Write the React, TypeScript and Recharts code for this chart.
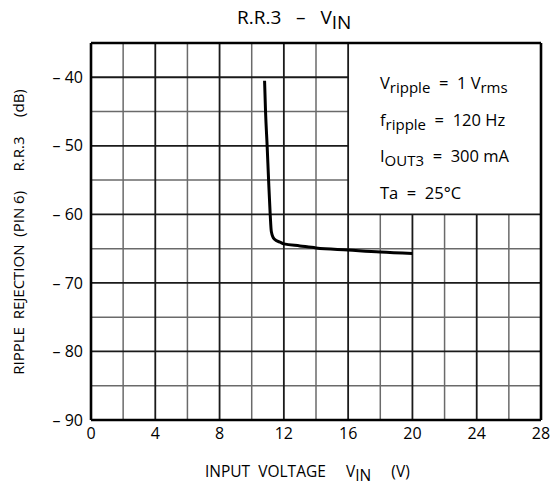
import React from "react";
import { LineChart, Line, XAxis, YAxis, ReferenceLine } from "recharts";

// curve: V_IN (V) vs ripple rejection (dB)
const vin = [10.8, 10.86, 10.96, 11.05, 11.15, 11.22, 11.4, 11.8, 12, 13, 14, 16, 18, 20];
const rr = [-40.5, -45, -50, -55, -60, -62.5, -63.6, -64.1, -64.3, -64.6, -64.9, -65.2, -65.5, -65.7];

const xTicks = [0, 4, 8, 12, 16, 20, 24, 28];
const yTicks = [-40, -50, -60, -70, -80, -90];
const xMinor = [2, 6, 10, 14, 18, 22, 26];
const xMajor = [4, 8, 12, 16, 20, 24];
const yMinor = [-45, -55, -65, -75, -85];
const yMajor = [-40, -50, -60, -70, -80];

// the condition box covers x 16..28, y -60..-35
const boxX = 16;
const boxY = -60;

const data = vin.map((v, i) => ({ vin: v, rr: rr[i] }));

const FONT = "'Open Sans', 'DejaVu Sans', sans-serif";

function vSeg(x: number) {
  const top = x > boxX ? boxY : -35;
  return [
    { x, y: -90 },
    { x, y: top },
  ];
}

function hSeg(y: number) {
  const right = y > boxY ? boxX : 28;
  return [
    { x: 0, y },
    { x: right, y },
  ];
}

const sub = { fontSize: 15, position: "relative" as const, top: 4 };

export default function App() {
  return (
    <div
      style={{
        position: "fixed",
        left: 0,
        top: 0,
        width: 560,
        height: 486,
        background: "#fff",
        fontFamily: FONT,
        color: "#000",
      }}
    >
      <LineChart
        width={560}
        height={486}
        data={data}
        margin={{ top: 43, right: 19, bottom: 36, left: 0 }}
      >
        <XAxis
          dataKey="vin"
          type="number"
          domain={[0, 28]}
          ticks={xTicks}
          axisLine={false}
          tickLine={false}
          height={30}
          tick={{ fontSize: 16, fill: "#000", fontFamily: FONT }}
        />
        <YAxis
          type="number"
          domain={[-90, -35]}
          ticks={yTicks}
          axisLine={false}
          tickLine={false}
          width={91}
          tickFormatter={(v: number) => `\u2013 ${Math.abs(v)}`}
          tick={{ fontSize: 16, fill: "#000", fontFamily: FONT }}
        />
        {xMinor.map((x) => (
          <ReferenceLine key={`xm${x}`} segment={vSeg(x)} stroke="#6a6a6a" strokeWidth={1.5} />
        ))}
        {yMinor.map((y) => (
          <ReferenceLine key={`ym${y}`} segment={hSeg(y)} stroke="#6a6a6a" strokeWidth={1.5} />
        ))}
        {xMajor.map((x) => (
          <ReferenceLine key={`xM${x}`} segment={vSeg(x)} stroke="#1a1a1a" strokeWidth={1.8} />
        ))}
        {yMajor.map((y) => (
          <ReferenceLine key={`yM${y}`} segment={hSeg(y)} stroke="#1a1a1a" strokeWidth={1.8} />
        ))}
        <ReferenceLine x={0} stroke="#000" strokeWidth={2.6} />
        <ReferenceLine x={28} stroke="#000" strokeWidth={2.6} />
        <ReferenceLine y={-35} stroke="#000" strokeWidth={2.6} />
        <ReferenceLine y={-90} stroke="#000" strokeWidth={2.6} />
        <Line
          dataKey="rr"
          type="monotone"
          stroke="#000"
          strokeWidth={3}
          dot={false}
          isAnimationActive={false}
        />
      </LineChart>

      {/* title */}
      <div
        style={{
          position: "absolute",
          left: 237,
          top: 4,
          fontSize: 19,
          whiteSpace: "pre",
        }}
      >
        {"R.R.3   \u2013   V"}
        <span style={{ position: "relative", top: 5 }}>IN</span>
      </div>

      {/* conditions */}
      <div
        style={{
          position: "absolute",
          left: 380,
          top: 65,
          fontSize: 16.5,
          lineHeight: "35.5px",
          whiteSpace: "pre",
        }}
      >
        <div>
          V<span style={sub}>ripple</span>
          {"  =  1 V"}
          <span style={sub}>rms</span>
        </div>
        <div>
          f<span style={sub}>ripple</span>
          {"  =  120 Hz"}
        </div>
        <div>
          I<span style={sub}>OUT3</span>
          {"  =  300 mA"}
        </div>
        <div>{"Ta  =  25\u00b0C"}</div>
      </div>

      {/* x axis title */}
      <div
        style={{
          position: "absolute",
          left: 205,
          top: 460,
          fontSize: 15.5,
          whiteSpace: "pre",
        }}
      >
        {"INPUT  VOLTAGE     V"}
        <span style={{ position: "relative", top: 4 }}>IN</span>
        {"     (V)"}
      </div>

      {/* y axis title */}
      <div
        style={{
          position: "absolute",
          left: 18,
          top: 232,
          fontSize: 15,
          whiteSpace: "pre",
          transform: "translate(-50%, -50%) rotate(-90deg)",
        }}
      >
        {"RIPPLE  REJECTION  (PIN 6)     R.R.3     (dB)"}
      </div>
    </div>
  );
}
